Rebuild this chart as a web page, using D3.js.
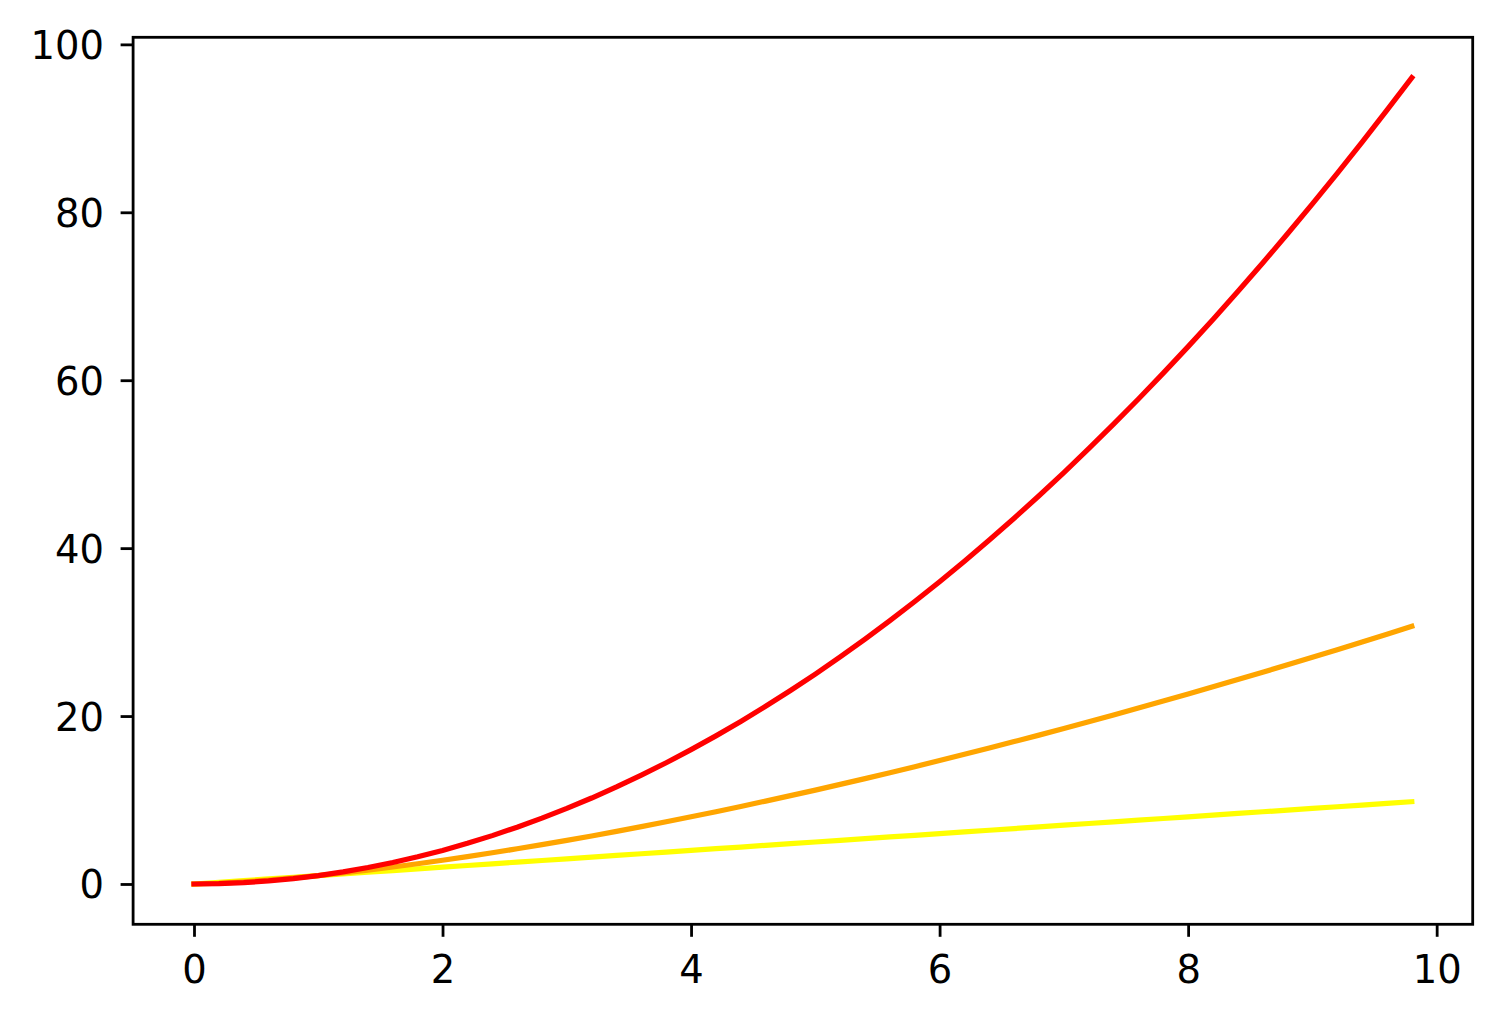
<!DOCTYPE html>
<html>
<head>
<meta charset="utf-8">
<script src="https://cdn.jsdelivr.net/npm/d3@7"></script>
<style>
	html, body { margin: 0; padding: 0; background: #fff; }
	svg { display: block; }
	.tick text { font-family: 'DejaVu Sans', sans-serif; font-size: 38.5px; fill: #000; }
	.line { fill: none; stroke-width: 5.2; stroke-linecap: square; stroke-linejoin: round; }
</style>
</head>
<body>
<svg id="chart" width="1501" height="1021"></svg>
<script>
const xValues = [0, 0.2, 0.4, 0.6, 0.8, 1, 1.2, 1.4, 1.6, 1.8, 2, 2.2, 2.4, 2.6, 2.8, 3, 3.2, 3.4, 3.6, 3.8,
	4, 4.2, 4.4, 4.6, 4.8, 5, 5.2, 5.4, 5.6, 5.8, 6, 6.2, 6.4, 6.6, 6.8, 7, 7.2, 7.4, 7.6, 7.8,
	8, 8.2, 8.4, 8.6, 8.8, 9, 9.2, 9.4, 9.6, 9.8];

// yellow
const linearValues = [0, 0.2, 0.4, 0.6, 0.8, 1, 1.2, 1.4, 1.6, 1.8, 2, 2.2, 2.4, 2.6, 2.8, 3, 3.2, 3.4, 3.6, 3.8,
	4, 4.2, 4.4, 4.6, 4.8, 5, 5.2, 5.4, 5.6, 5.8, 6, 6.2, 6.4, 6.6, 6.8, 7, 7.2, 7.4, 7.6, 7.8,
	8, 8.2, 8.4, 8.6, 8.8, 9, 9.2, 9.4, 9.6, 9.8];

// orange
const middleValues = [0, 0.09, 0.25, 0.46, 0.72, 1, 1.31, 1.66, 2.02, 2.41, 2.83, 3.26, 3.72, 4.19, 4.69, 5.2,
	5.72, 6.27, 6.83, 7.41, 8, 8.61, 9.23, 9.87, 10.52, 11.18, 11.86, 12.55, 13.25, 13.97, 14.7,
	15.44, 16.19, 16.96, 17.73, 18.52, 19.32, 20.13, 20.95, 21.78, 22.63, 23.48, 24.35, 25.22,
	26.11, 27, 27.9, 28.82, 29.74, 30.68];

// red
const squareValues = [0, 0.04, 0.16, 0.36, 0.64, 1, 1.44, 1.96, 2.56, 3.24, 4, 4.84, 5.76, 6.76, 7.84, 9,
	10.24, 11.56, 12.96, 14.44, 16, 17.64, 19.36, 21.16, 23.04, 25, 27.04, 29.16, 31.36, 33.64, 36,
	38.44, 40.96, 43.56, 46.24, 49, 51.84, 54.76, 57.76, 60.84, 64, 67.24, 70.56, 73.96, 77.44, 81,
	84.64, 88.36, 92.16, 96.04];

const xTicks = [0, 2, 4, 6, 8, 10];
const yTicks = [0, 20, 40, 60, 80, 100];

const series = [
	{ name: 'linear', values: linearValues, color: '#ffff00' },
	{ name: 'middle', values: middleValues, color: '#ffa500' },
	{ name: 'square', values: squareValues, color: '#ff0000' }
];

const svg = d3.select('svg#chart');
const box = { left: 133.1, right: 1472.7, top: 37.3, bottom: 924.3 };

// matplotlib style 5% margins around the data
const xMax = d3.max(xValues);
const yMax = d3.max(squareValues);
const x = d3.scaleLinear([ -xMax * 0.05, xMax * 1.05 ], [ box.left, box.right ]);
const y = d3.scaleLinear([ -yMax * 0.05, yMax * 1.05 ], [ box.bottom, box.top ]);

const line = d3.line()
	.x((d, i) => x(xValues[i]))
	.y(d => y(d));

svg.selectAll('path.line')
	.data(series)
	.join('path')
	.attr('class', 'line')
	.attr('stroke', d => d.color)
	.attr('d', d => line(d.values));

const xAxis = svg.append('g')
	.attr('transform', `translate(0, ${box.bottom})`)
	.call(d3.axisBottom(x).tickValues(xTicks).tickFormat(d3.format('d')).tickSize(12.5).tickSizeOuter(0));
xAxis.select('.domain').remove();
xAxis.selectAll('.tick line').attr('stroke', '#000').attr('stroke-width', 2.8);
xAxis.selectAll('.tick text').attr('y', 58.5).attr('dy', null);

const yAxis = svg.append('g')
	.attr('transform', `translate(${box.left}, 0)`)
	.call(d3.axisLeft(y).tickValues(yTicks).tickFormat(d3.format('d')).tickSize(12.5).tickSizeOuter(0));
yAxis.select('.domain').remove();
yAxis.selectAll('.tick line').attr('stroke', '#000').attr('stroke-width', 2.8);
yAxis.selectAll('.tick text').attr('x', -29).attr('dy', 14);

// frame
svg.append('rect')
	.attr('x', box.left)
	.attr('y', box.top)
	.attr('width', box.right - box.left)
	.attr('height', box.bottom - box.top)
	.attr('fill', 'none')
	.attr('stroke', '#000')
	.attr('stroke-width', 2.8);
</script>
</body>
</html>
